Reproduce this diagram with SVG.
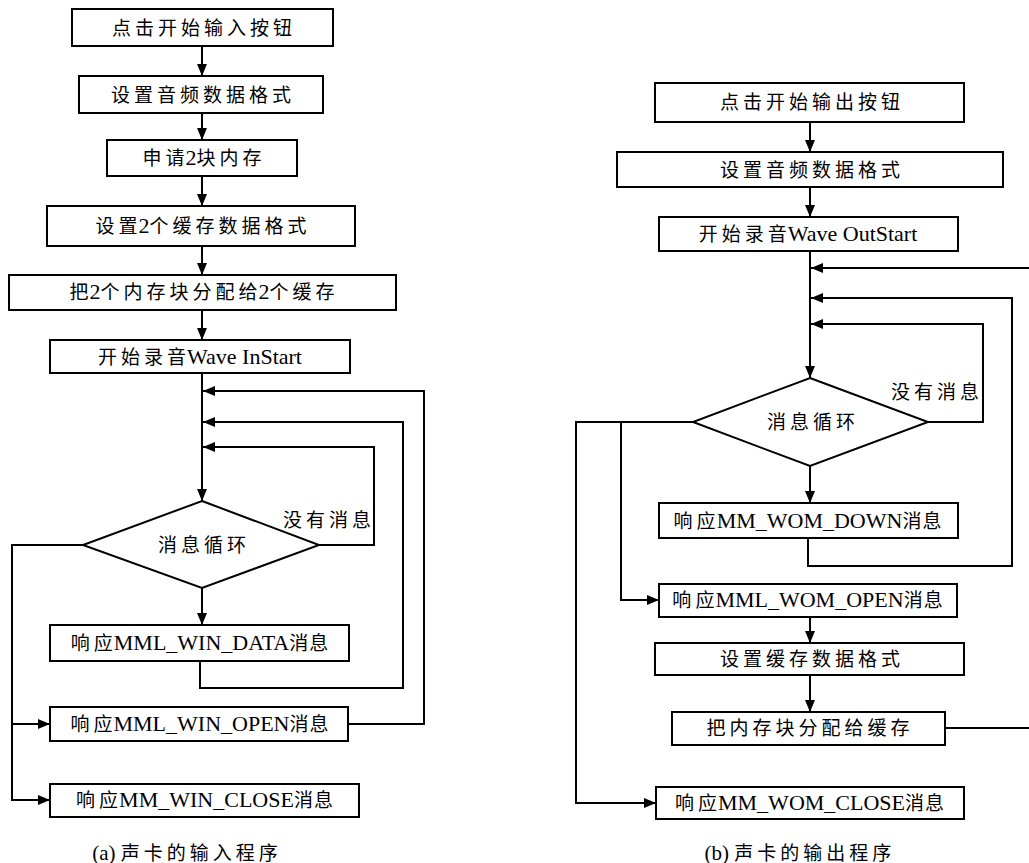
<svg xmlns="http://www.w3.org/2000/svg" width="1029" height="863" viewBox="0 0 1029 863">
<style>
.box{fill:#fff;stroke:#000;stroke-width:2}
.ln{fill:none;stroke:#000;stroke-width:2}
.t{text-anchor:middle;fill:#000}
.c{font-family:"Noto Sans CJK SC",sans-serif;font-size:19px;letter-spacing:4px}
.c0{font-family:"Noto Sans CJK SC",sans-serif;font-size:19px;letter-spacing:1px}
.l{font-family:"Liberation Serif",serif;font-size:22px;letter-spacing:0}
</style>
<defs>
<marker id="ah" markerWidth="12" markerHeight="10" refX="12" refY="5" orient="auto" markerUnits="userSpaceOnUse">
<path d="M0,0 L12,5 L0,10 Z" fill="#000"/>
</marker>
</defs>
<rect width="1029" height="863" fill="#fff"/>
<g id="connectors">
<path class="ln" marker-end="url(#ah)" d="M202,46 V76"/>
<path class="ln" marker-end="url(#ah)" d="M202,113 V140"/>
<path class="ln" marker-end="url(#ah)" d="M202,176 V206"/>
<path class="ln" marker-end="url(#ah)" d="M202,246 V275"/>
<path class="ln" marker-end="url(#ah)" d="M202,310 V340"/>
<path class="ln" marker-end="url(#ah)" d="M202,373 V501"/>
<path class="ln" marker-end="url(#ah)" d="M319,545 H374 V447 H203"/>
<path class="ln" marker-end="url(#ah)" d="M200,661 V688 H403 V422 H203"/>
<path class="ln" marker-end="url(#ah)" d="M348,724 H424 V391 H203"/>
<path class="ln" marker-end="url(#ah)" d="M202,588 V625"/>
<path class="ln" marker-end="url(#ah)" d="M83,545 H12 V800 H50"/>
<path class="ln" marker-end="url(#ah)" d="M12,724 H50"/>
<path class="ln" marker-end="url(#ah)" d="M810,122 V152"/>
<path class="ln" marker-end="url(#ah)" d="M810,187 V217"/>
<path class="ln" marker-end="url(#ah)" d="M810,251 V378"/>
<path class="ln" marker-end="url(#ah)" d="M928,422 H983 V324 H811"/>
<path class="ln" marker-end="url(#ah)" d="M808,538 V566 H1012 V298 H811"/>
<path class="ln" marker-end="url(#ah)" d="M945,728 H1031 V268 H811"/>
<path class="ln" marker-end="url(#ah)" d="M810,466 V503"/>
<path class="ln" marker-end="url(#ah)" d="M693,422 H576 V803 H656"/>
<path class="ln" marker-end="url(#ah)" d="M621,422 V600 H659"/>
<path class="ln" marker-end="url(#ah)" d="M810,617 V643"/>
<path class="ln" marker-end="url(#ah)" d="M810,675 V712"/>
</g>
<g id="a1"><rect class="box" x="72" y="9" width="261" height="37"/><text class="t" x="204" y="35"><tspan class="c">点击开始输入按钮</tspan></text></g>
<g id="a2"><rect class="box" x="79" y="76" width="244" height="37"/><text class="t" x="203" y="102"><tspan class="c">设置音频数据格式</tspan></text></g>
<g id="a3"><rect class="box" x="107" y="140" width="190" height="36"/><text class="t" x="204" y="165"><tspan class="c">申</tspan><tspan class="c0">请</tspan><tspan class="l">2</tspan><tspan class="c">块内存</tspan></text></g>
<g id="a4"><rect class="box" x="47" y="206" width="308" height="40"/><text class="t" x="203" y="233"><tspan class="c">设</tspan><tspan class="c0">置</tspan><tspan class="l">2</tspan><tspan class="c">个缓存数据格式</tspan></text></g>
<g id="a5"><rect class="box" x="9" y="275" width="387" height="35"/><text class="t" x="204" y="299"><tspan class="c0">把</tspan><tspan class="l">2</tspan><tspan class="c">个内存块分配</tspan><tspan class="c0">给</tspan><tspan class="l">2</tspan><tspan class="c">个缓存</tspan></text></g>
<g id="a6"><rect class="box" x="50" y="340" width="300" height="33"/><text class="t" x="200" y="364"><tspan class="c">开始录</tspan><tspan class="c0">音</tspan><tspan class="l">Wave InStart</tspan></text></g>
<g id="a7"><polygon class="box" points="202,501 319,545 202,588 83,545"/><text class="t" x="204" y="552"><tspan class="c">消息循环</tspan></text><text class="t" x="329" y="527"><tspan class="c">没有消息</tspan></text></g>
<g id="a8"><rect class="box" x="50" y="625" width="299" height="36"/><text class="t" x="200" y="650"><tspan class="c">响</tspan><tspan class="c0">应</tspan><tspan class="l">MML_WIN_DATA</tspan><tspan class="c0">消息</tspan></text></g>
<g id="a9"><rect class="box" x="50" y="707" width="298" height="34"/><text class="t" x="200" y="731"><tspan class="c">响</tspan><tspan class="c0">应</tspan><tspan class="l">MML_WIN_OPEN</tspan><tspan class="c0">消息</tspan></text></g>
<g id="a10"><rect class="box" x="50" y="784" width="309" height="33"/><text class="t" x="205" y="807"><tspan class="c">响</tspan><tspan class="c0">应</tspan><tspan class="l">MM_WIN_CLOSE</tspan><tspan class="c0">消息</tspan></text></g>
<g id="capA"><text class="t" x="187" y="860"><tspan class="l" style="font-size:21px">(a) </tspan><tspan class="c">声卡的输入程序</tspan></text></g>
<g id="b1"><rect class="box" x="655" y="83" width="309" height="39"/><text class="t" x="812" y="109"><tspan class="c">点击开始输出按钮</tspan></text></g>
<g id="b2"><rect class="box" x="617" y="152" width="386" height="35"/><text class="t" x="812" y="177"><tspan class="c">设置音频数据格式</tspan></text></g>
<g id="b3"><rect class="box" x="659" y="217" width="299" height="34"/><text class="t" x="808" y="241"><tspan class="c">开始录</tspan><tspan class="c0">音</tspan><tspan class="l">Wave OutStart</tspan></text></g>
<g id="b4"><polygon class="box" points="810,378 928,422 810,466 693,422"/><text class="t" x="813" y="429"><tspan class="c">消息循环</tspan></text><text class="t" x="937" y="399"><tspan class="c">没有消息</tspan></text></g>
<g id="b5"><rect class="box" x="659" y="503" width="299" height="35"/><text class="t" x="808" y="528"><tspan class="c">响</tspan><tspan class="c0">应</tspan><tspan class="l">MM_WOM_DOWN</tspan><tspan class="c0">消息</tspan></text></g>
<g id="b6"><rect class="box" x="659" y="584" width="298" height="33"/><text class="t" x="808" y="607"><tspan class="c">响</tspan><tspan class="c0">应</tspan><tspan class="l">MML_WOM_OPEN</tspan><tspan class="c0">消息</tspan></text></g>
<g id="b7"><rect class="box" x="655" y="643" width="309" height="32"/><text class="t" x="812" y="666"><tspan class="c">设置缓存数据格式</tspan></text></g>
<g id="b8"><rect class="box" x="672" y="712" width="273" height="33"/><text class="t" x="810" y="735"><tspan class="c">把内存块分配给缓存</tspan></text></g>
<g id="b9"><rect class="box" x="656" y="787" width="308" height="32"/><text class="t" x="810" y="810"><tspan class="c">响</tspan><tspan class="c0">应</tspan><tspan class="l">MM_WOM_CLOSE</tspan><tspan class="c0">消息</tspan></text></g>
<g id="capB"><text class="t" x="800" y="860"><tspan class="l" style="font-size:21px">(b) </tspan><tspan class="c">声卡的输出程序</tspan></text></g>
</svg>
